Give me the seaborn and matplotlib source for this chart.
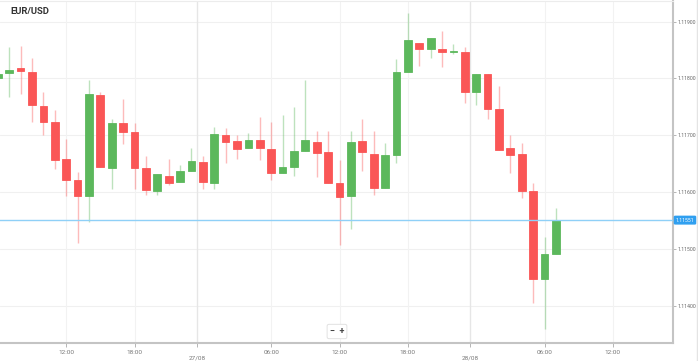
import numpy as np
import pandas as pd
import matplotlib
matplotlib.use("Agg")
import matplotlib.pyplot as plt
import seaborn as sns
from matplotlib.lines import Line2D

# ---- data (hourly candles, 26/08 06:00 -> 28/08 07:00) ----
opens = [1.11801, 1.11809, 1.11818, 1.11811, 1.11752, 1.11724, 1.11658, 1.11622, 1.11594, 1.11770,
         1.11643, 1.11721, 1.11705, 1.11643, 1.11602, 1.11629, 1.11618, 1.11638, 1.11654, 1.11617,
         1.11700, 1.11690, 1.11677, 1.11692, 1.11676, 1.11633, 1.11645, 1.11672, 1.11688, 1.11670,
         1.11616, 1.11593, 1.11690, 1.11668, 1.11607, 1.11666, 1.11811, 1.11862, 1.11851, 1.11851,
         1.11847, 1.11847, 1.11777, 1.11807, 1.11746, 1.11678, 1.11667, 1.11602, 1.11448, 1.11491]
highs = [1.11814, 1.11855, 1.11857, 1.11836, 1.11777, 1.11744, 1.11694, 1.11636, 1.11798, 1.11777,
         1.11729, 1.11763, 1.11721, 1.11663, 1.11632, 1.11658, 1.11647, 1.11678, 1.11664, 1.11715,
         1.11713, 1.11700, 1.11704, 1.11733, 1.11723, 1.11736, 1.11749, 1.11797, 1.11708, 1.11707,
         1.11656, 1.11707, 1.11728, 1.11708, 1.11686, 1.11835, 1.11915, 1.11862, 1.11871, 1.11884,
         1.11860, 1.11855, 1.11807, 1.11807, 1.11786, 1.11700, 1.11687, 1.11616, 1.11522, 1.11572]
lows = [1.11797, 1.11767, 1.11773, 1.11723, 1.11700, 1.11640, 1.11594, 1.11511, 1.11547, 1.11644,
        1.11605, 1.11685, 1.11605, 1.11595, 1.11595, 1.11613, 1.11618, 1.11638, 1.11606, 1.11606,
        1.11651, 1.11659, 1.11677, 1.11657, 1.11622, 1.11633, 1.11629, 1.11672, 1.11626, 1.11617,
        1.11508, 1.11536, 1.11637, 1.11595, 1.11607, 1.11652, 1.11811, 1.11822, 1.11836, 1.11820,
        1.11843, 1.11756, 1.11754, 1.11729, 1.11675, 1.11633, 1.11590, 1.11406, 1.11359, 1.11491]
closes = [1.11808, 1.11815, 1.11813, 1.11753, 1.11724, 1.11657, 1.11622, 1.11594, 1.11772, 1.11644,
          1.11721, 1.11706, 1.11642, 1.11604, 1.11632, 1.11617, 1.11637, 1.11655, 1.11618, 1.11702,
          1.11688, 1.11676, 1.11691, 1.11677, 1.11634, 1.11645, 1.11672, 1.11691, 1.11669, 1.11617,
          1.11592, 1.11688, 1.11670, 1.11607, 1.11665, 1.11811, 1.11867, 1.11852, 1.11871, 1.11846,
          1.11848, 1.11777, 1.11807, 1.11746, 1.11675, 1.11665, 1.11602, 1.11448, 1.11491, 1.11551]

current_price = 1.11551
y_ticks = [1.114, 1.115, 1.116, 1.117, 1.118, 1.119]
y_tick_labels = ["1.11400", "1.11500", "1.11600", "1.11700", "1.11800", "1.11900"]
x_tick_hours = [6, 12, 17.5, 24, 30, 36, 41.5, 48, 54]
x_tick_labels = ["12:00", "18:00", "\n27/08", "06:00", "12:00", "18:00", "\n28/08", "06:00", "12:00"]
date_tick_hours = [17.5, 41.5]
title = "EUR/USD"

df = pd.DataFrame({"open": opens, "high": highs, "low": lows, "close": closes})
df["x"] = np.arange(len(df))
df["up"] = df["close"] >= df["open"]

GREEN = "#5cb85c"
RED = "#fa5656"

sns.set_theme(style="white")
plt.rcParams['font.family'] = ['Roboto', 'DejaVu Sans']

fig = plt.figure(figsize=(6.98, 3.61), dpi=100)
ax = fig.add_axes([0.0, 0.0499, 673 / 698, 0.9485])

# gridlines
for yt in y_ticks:
    ax.axhline(yt, color="#f0f0f0", lw=0.8, zorder=0)
for xt in x_tick_hours:
    c = "#e6e6e6" if xt in date_tick_hours else "#f2f2f2"
    ax.axvline(xt, color=c, lw=1.0 if xt in date_tick_hours else 0.8, zorder=0)

colors = np.where(df["up"], GREEN, RED)
# wicks
ax.vlines(df["x"], df["low"], df["high"], colors=colors, lw=1.0, alpha=0.4, zorder=2)
# bodies
bottoms = np.minimum(df["open"], df["close"])
heights = np.maximum(np.abs(df["close"] - df["open"]), 0.000012)
ax.bar(df["x"], heights, bottom=bottoms, width=0.68, color=colors,
       edgecolor=colors, linewidth=0.6, zorder=3)

# current price line
sns.lineplot(x=[-5, 70], y=[current_price, current_price], ax=ax, color="#8fd0f7", lw=1.0, zorder=4)

ax.set_xlim(0.19, 59.28)
ax.set_ylim(1.113351, 1.119368)

ax.yaxis.tick_right()
ax.set_yticks(y_ticks)
ax.set_yticklabels(y_tick_labels)
ax.set_xticks(x_tick_hours)
ax.set_xticklabels(x_tick_labels, linespacing=1.25)
ax.tick_params(axis="y", which="both", right=True, length=2, width=0.6, color="#aaaaaa",
               labelsize=3.7, labelcolor="#666666", pad=1.0)
ax.tick_params(axis="x", which="both", bottom=True, length=3, width=0.6, color="#aaaaaa",
               labelsize=4.6, labelcolor="#777777", pad=2)
ax.grid(False)

ax.spines["left"].set_visible(False)
ax.spines["top"].set_color("#ececec")
ax.spines["top"].set_linewidth(0.8)
for s in ["bottom", "right"]:
    ax.spines[s].set_color("#c4c4c4")
    ax.spines[s].set_linewidth(1.5)

# current price label
ax.text(1.004, current_price, f"{current_price:.5f}", transform=ax.get_yaxis_transform(),
        ha="left", va="center", fontsize=3.7, color="white", zorder=6, clip_on=False,
        bbox=dict(boxstyle="round,pad=0.25,rounding_size=0.15", fc="#2f9ff0", ec="#2f9ff0"))

# title
fig.text(10 / 698, 1 - 12 / 361, title, fontsize=6.8, fontweight="bold", color="#333333",
         ha="left", va="center")

# zoom controls
fig.text(337 / 698, 1 - 331.5 / 361, "\u2212  +", fontsize=6.5, fontweight="bold", color="#444444",
         ha="center", va="center",
         bbox=dict(boxstyle="round,pad=0.3,rounding_size=0.2", fc="white", ec="#dddddd", lw=0.6))

# right border strip
fig.add_artist(Line2D([696.5 / 698, 696.5 / 698], [0, 1], transform=fig.transFigure,
                      color="#e4e4e4", lw=1.0))

fig.savefig("out.png", dpi=100)
